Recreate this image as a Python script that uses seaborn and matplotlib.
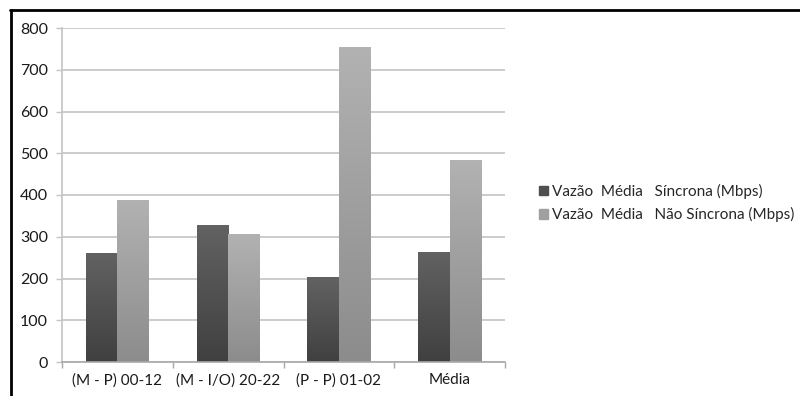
import numpy as np
import pandas as pd
import matplotlib
matplotlib.use("Agg")
import matplotlib.pyplot as plt
import seaborn as sns
from matplotlib.lines import Line2D

categories = ["(M - P) 00-12", "(M - I/O) 20-22", "(P - P) 01-02", "Média"]
sincrona = [262, 328, 203, 264]
nao_sincrona = [389, 306, 754, 483]
series_names = ["Vazão  Média   Síncrona (Mbps)", "Vazão  Média   Não Síncrona (Mbps)"]
y_ticks = [0, 100, 200, 300, 400, 500, 600, 700, 800]

df = pd.DataFrame({
    "categoria": categories * 2,
    "valor": sincrona + nao_sincrona,
    "serie": [series_names[0]] * len(categories) + [series_names[1]] * len(categories),
})

sns.set_theme(style="white")
plt.rcParams["font.family"] = ["Lato", "DejaVu Sans"]

fig = plt.figure(figsize=(8, 3.96), dpi=100)
ax = fig.add_axes([62 / 800, 1 - 362 / 396, (505 - 62) / 800, (362 - 28) / 396])

dark_top, dark_bot = np.array([0x62, 0x62, 0x62]) / 255, np.array([0x40, 0x40, 0x40]) / 255
light_top, light_bot = np.array([0xb2, 0xb2, 0xb2]) / 255, np.array([0x8c, 0x8c, 0x8c]) / 255

sns.barplot(data=df, x="categoria", y="valor", hue="serie", order=categories,
            hue_order=series_names, palette=["#505050", "#a0a0a0"],
            width=0.57, ax=ax, legend=False, saturation=1)

# vertical gradient fill for each bar, clipped to the bar rectangle
grad = np.linspace(0, 1, 256)[:, None]
for i, patch in enumerate(ax.patches):
    top, bot = (dark_top, dark_bot) if i < len(categories) else (light_top, light_bot)
    img = top[None, None, :] * (1 - grad[:, :, None]) + bot[None, None, :] * grad[:, :, None]
    x0, y0 = patch.get_x(), patch.get_y()
    w, h = patch.get_width(), patch.get_height()
    im = ax.imshow(img, extent=(x0, x0 + w, y0, y0 + h), aspect="auto", zorder=patch.get_zorder() + 0.1,
                   interpolation="bilinear")
    im.set_clip_path(patch)
    patch.set_edgecolor("none")
ax.set_xlim(-0.5, len(categories) - 0.5)
ax.set_ylim(0, 800)

ax.set_yticks(y_ticks)
ax.set_yticklabels([str(v) for v in y_ticks], fontsize=11.5, color="#1a1a1a")
ax.yaxis.grid(True, color="#c4c4c4", linewidth=1.2)
ax.set_axisbelow(True)

ax.set_xticks(range(len(categories)))
ax.set_xticklabels(categories, fontsize=11, color="#1a1a1a")
ax.set_xticks(np.arange(-0.5, len(categories)), minor=True)
ax.tick_params(axis="x", which="major", length=0, pad=8)
ax.tick_params(axis="x", which="minor", length=4, width=1, color="#a8a8a8", direction="out", bottom=True)
ax.tick_params(axis="y", which="major", length=4, width=1, color="#c4c4c4", direction="out", left=True, pad=6)

for side in ["top", "right"]:
    ax.spines[side].set_visible(False)
ax.spines["left"].set_color("#c4c4c4")
ax.spines["left"].set_linewidth(1.2)
ax.spines["bottom"].set_color("#a8a8a8")
ax.spines["bottom"].set_linewidth(1.2)
ax.set_xlabel("")
ax.set_ylabel("")

handles = [plt.Rectangle((0, 0), 1, 1, color="#4f4f4f"), plt.Rectangle((0, 0), 1, 1, color="#a0a0a0")]
fig.legend(handles, series_names, loc="center left", bbox_to_anchor=(531 / 800, 1 - 203 / 396),
           frameon=False, fontsize=11, handlelength=0.6, handleheight=0.6, handletextpad=0.3,
           labelspacing=0.55, borderpad=0)

# outer frame on the top and left edges
fig.add_artist(Line2D([10 / 800, 1], [1 - 10 / 396, 1 - 10 / 396], color="black", linewidth=2,
                      transform=fig.transFigure))
fig.add_artist(Line2D([11 / 800, 11 / 800], [0, 1 - 10 / 396], color="black", linewidth=2,
                      transform=fig.transFigure))

fig.savefig("out.png", dpi=100, facecolor="white")
